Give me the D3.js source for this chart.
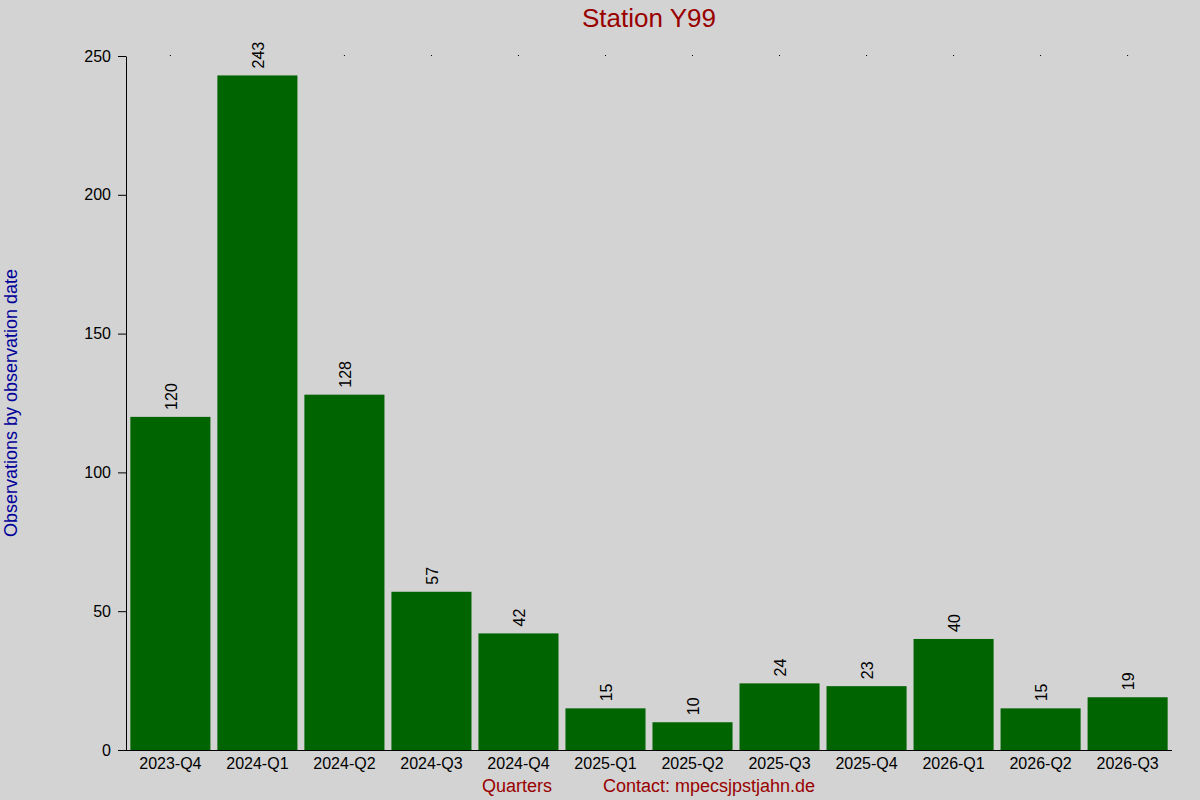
<!DOCTYPE html>
<html>
<head>
<meta charset="utf-8">
<script src="https://cdn.jsdelivr.net/npm/d3@7/dist/d3.min.js"></script>
<style>
  html, body { margin: 0; padding: 0; background: #d3d3d3; }
  svg { display: block; font-family: "Liberation Sans", Arial, sans-serif; }
</style>
</head>
<body>
<svg id="chart" width="1200" height="800"></svg>
<script>
const quarters = ['2023-Q4', '2024-Q1', '2024-Q2', '2024-Q3', '2024-Q4', '2025-Q1',
  '2025-Q2', '2025-Q3', '2025-Q4', '2026-Q1', '2026-Q2', '2026-Q3'];
const counts = [120, 243, 128, 57, 42, 15, 10, 24, 23, 40, 15, 19];
const yTicks = [0, 50, 100, 150, 200, 250];

const titleText = 'Station Y99';
const xLabel = 'Quarters';
const contactText = 'Contact: mpecsjpstjahn.de';
const yLabel = 'Observations by observation date';

const width = 1200, height = 800;
const margin = { top: 56, right: 28, bottom: 50, left: 126 };
const plotW = width - margin.left - margin.right;
const plotH = height - margin.top - margin.bottom;

const svg = d3.select('#chart');
svg.append('rect').attr('width', width).attr('height', height).attr('fill', '#d3d3d3');

const g = svg.append('g').attr('transform', `translate(${margin.left},${margin.top})`);

const x = d3.scaleBand().domain(quarters).range([0, plotW]).paddingInner(0.08).paddingOuter(0.05);
const y = d3.scaleLinear().domain([0, 250]).range([plotH, 0]);

// bars
g.selectAll('rect.bar')
  .data(quarters)
  .join('rect')
  .attr('class', 'bar')
  .attr('x', (d) => x(d))
  .attr('y', (d, i) => y(counts[i]))
  .attr('width', x.bandwidth())
  .attr('height', (d, i) => plotH - y(counts[i]))
  .attr('fill', '#006400');

// value labels, rotated
g.selectAll('text.val')
  .data(quarters)
  .join('text')
  .attr('class', 'val')
  .attr('transform', (d, i) => `translate(${x(d) + x.bandwidth() / 2 + 1},${y(counts[i]) - 7}) rotate(-90)`)
  .attr('dy', '0.35em')
  .attr('font-size', 16)
  .attr('fill', '#000')
  .text((d, i) => counts[i]);

// y axis
const yAxis = g.append('g')
  .call(d3.axisLeft(y).tickValues(yTicks).tickSize(8).tickPadding(7).tickSizeOuter(0));
yAxis.select('.domain').attr('stroke', '#000');
yAxis.selectAll('.tick line').attr('stroke', '#000');
yAxis.selectAll('.tick text').attr('font-size', 16).attr('font-family', null).attr('fill', '#000');

// x axis
const xAxis = g.append('g')
  .attr('transform', `translate(0,${plotH})`)
  .call(d3.axisBottom(x).tickSize(0).tickPadding(8));
xAxis.select('.domain').attr('stroke', '#000').attr('d', `M-8,0.5H${plotW}`);
xAxis.selectAll('.tick text').attr('font-size', 16).attr('font-family', null).attr('fill', '#000');

// tiny top ticks at band centres
const topAxis = g.append('g')
  .call(d3.axisTop(x).tickSize(1).tickFormat(''));
topAxis.select('.domain').remove();
topAxis.selectAll('.tick line').attr('stroke', '#000');

// title
const cx = margin.left + plotW / 2;
svg.append('text')
  .attr('x', cx).attr('y', 27)
  .attr('text-anchor', 'middle')
  .attr('font-size', 26)
  .attr('fill', '#990000')
  .text(titleText);

// x label + contact
svg.append('text')
  .attr('x', cx - 97).attr('y', 792)
  .attr('text-anchor', 'end')
  .attr('font-size', 18)
  .attr('fill', '#990000')
  .text(xLabel);
svg.append('text')
  .attr('x', cx - 46).attr('y', 792)
  .attr('font-size', 18)
  .attr('fill', '#990000')
  .text(contactText);

// y label
svg.append('text')
  .attr('transform', `translate(17,${margin.top + plotH / 2}) rotate(-90)`)
  .attr('text-anchor', 'middle')
  .attr('font-size', 18)
  .attr('fill', '#000099')
  .text(yLabel);
</script>
</body>
</html>
